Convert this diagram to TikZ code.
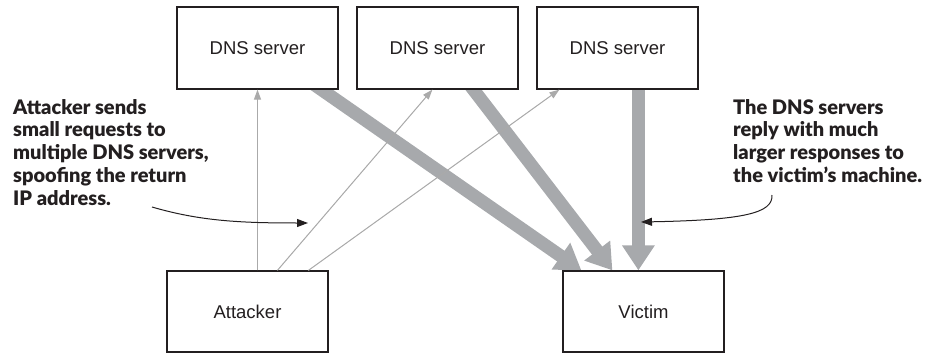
\documentclass[tikz,border=0pt]{standalone}
\usepackage{fontspec}
\setmainfont{Liberation Sans}
\newfontfamily\notefont{Lato Black}
\usetikzlibrary{arrows.meta,calc}
\definecolor{fat}{HTML}{A7A9AC}
\definecolor{slim}{HTML}{AAAAAA}
\definecolor{ink}{HTML}{231F20}
\pgfdeclarelayer{bg}
\pgfsetlayers{bg,main}
\begin{document}
\begin{tikzpicture}[x=1pt,y=-1pt,
  box/.style={draw=ink, fill=white, line width=1.2pt, minimum width=161pt, minimum height=82pt,
    inner sep=0pt, font=\fontsize{18.5}{20}\selectfont, text=ink},
  lowbox/.style={box, minimum height=81pt},
  slimarrow/.style={draw=slim, line width=1pt, -{Triangle[width=7pt,length=10pt]}, fill=slim},
  fatarrow/.style={draw=fat, line width=13pt, -{Triangle[width=31pt,length=25pt]}, fill=fat},
  notearrow/.style={draw=ink, line width=1pt, -{Triangle[width=8pt,length=11pt]}},
  note/.style={anchor=north west, align=left, inner sep=0pt, text=ink,
    font=\notefont\fontsize{20}{22.8}\selectfont}]
\useasboundingbox (0,0) rectangle (934,353);

\node[box] (d1) at (257.5,48) {DNS server};
\node[box] (d2) at (437.5,48) {DNS server};
\node[box] (d3) at (617.5,48) {DNS server};
\node[lowbox] (att) at (247.5,311.5) {Attacker};
\node[lowbox] (vic) at (643.5,311.5) {Victim};

\node[note] (ln) at (13,99) {Attacker sends\\small requests to\\multiple DNS servers,\\spoofing the return\\IP address.};
\node[note] (rn) at (733,99) {The DNS servers\\reply with much\\larger responses to\\the victim’s machine.};

% attack requests
\draw[slimarrow] (d1.south |- att.north) -- (d1.south);
\draw[slimarrow] ([xshift=111pt]att.north west) -- ([xshift=76pt]d2.south west);
\draw[slimarrow] ([xshift=142pt]att.north west) -- ([xshift=23pt]d3.south west);

% amplified responses
\coordinate (s1) at ([xshift=145pt]d1.south west);
\coordinate (e1) at ([xshift=19pt]vic.north west);
\coordinate (s2) at ([xshift=117pt]d2.south west);
\coordinate (e2) at ([xshift=50pt]vic.north west);
\coordinate (s3) at ([xshift=102pt]d3.south west);
\coordinate (e3) at ([xshift=76pt]vic.north west);
\begin{pgfonlayer}{bg}
\draw[fatarrow] ($(s1)!-12pt!(e1)$) -- (e1);
\draw[fatarrow] ($(s2)!-12pt!(e2)$) -- (e2);
\draw[fatarrow] ($(s3)!-12pt!(e3)$) -- (e3);
\end{pgfonlayer}

% annotation pointers
\coordinate (la) at (152,207);
\coordinate (lb) at (308,223);
\coordinate (ra) at (772,195);
\coordinate (rb) at (641,222);
\draw[notearrow] (la) .. controls (200,221) and (240,223) .. (lb);
\draw[notearrow] (ra) .. controls (773,213) and (745,220) .. (rb);
\end{tikzpicture}
\end{document}
